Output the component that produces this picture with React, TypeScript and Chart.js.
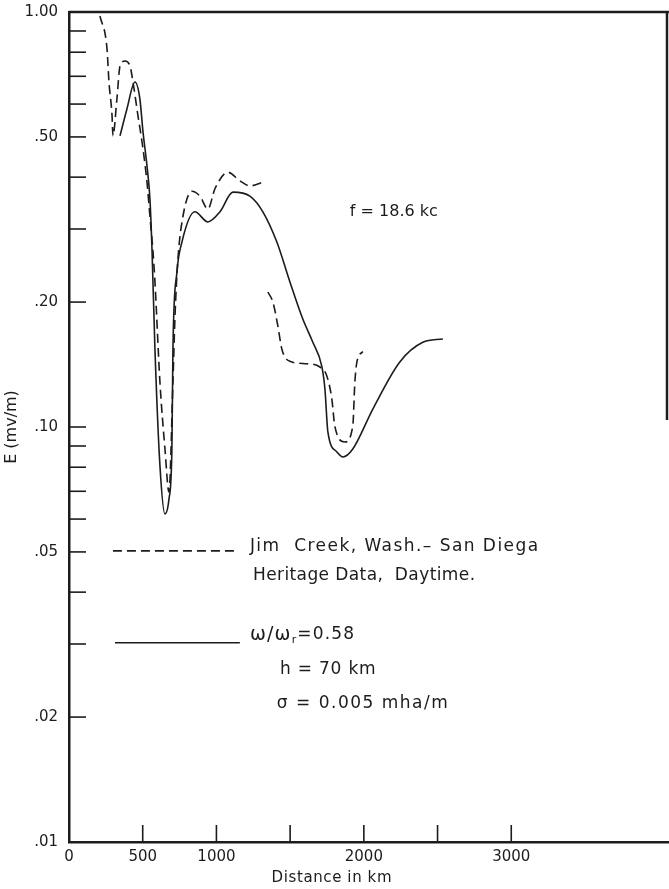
import React, { useEffect, useRef } from "react";
import { Chart, registerables } from "chart.js";

Chart.register(...registerables);

// ---- data (distance in km, field strength in mv/m) ----
const measuredKmA = [210, 258, 271, 292, 298, 325, 346, 380, 414, 434, 468, 502, 529, 549, 570, 583, 617, 651, 678, 705, 719, 739, 773, 834, 888, 942, 990, 1078, 1159, 1227, 1315];
const measuredEA = [0.978, 0.814, 0.678, 0.562, 0.503, 0.617, 0.741, 0.762, 0.741, 0.678, 0.562, 0.468, 0.389, 0.322, 0.264, 0.224, 0.128, 0.0885, 0.0697, 0.128, 0.185, 0.254, 0.322, 0.37, 0.36, 0.335, 0.375, 0.411, 0.392, 0.381, 0.389];
const measuredKmB = [1349, 1383, 1417, 1444, 1498, 1614, 1702, 1749, 1783, 1803, 1871, 1925, 1939, 1953, 1993];
const measuredEB = [0.2115, 0.2, 0.175, 0.154, 0.144, 0.142, 0.1395, 0.1327, 0.1168, 0.1005, 0.092, 0.1005, 0.128, 0.1435, 0.152];
const theoryKm = [346, 393, 447, 481, 502, 529, 549, 563, 583, 617, 651, 678, 698, 705, 732, 766, 854, 942, 1024, 1112, 1227, 1315, 1410, 1498, 1586, 1654, 1715, 1736, 1756, 1817, 1858, 1925, 2061, 2244, 2400, 2536];
const theoryE = [0.503, 0.584, 0.678, 0.617, 0.514, 0.426, 0.354, 0.268, 0.154, 0.0806, 0.0617, 0.067, 0.0885, 0.154, 0.236, 0.279, 0.33, 0.312, 0.33, 0.368, 0.36, 0.33, 0.279, 0.224, 0.182, 0.16, 0.14, 0.1235, 0.0973, 0.0871, 0.0847, 0.0885, 0.1105, 0.1435, 0.16, 0.163];

const xTickValues = [0, 500, 1000, 1500, 2000, 2500, 3000];
const xTickLabels = ["0", "500", "1000", "", "2000", "", "3000"];
const yTickValues = [1, 0.9, 0.8, 0.7, 0.6, 0.5, 0.4, 0.3, 0.2, 0.1, 0.09, 0.08, 0.07, 0.06, 0.05, 0.04, 0.03, 0.02, 0.01];
const yTickLabels = ["1.00", "", "", "", "", ".50", "", "", ".20", ".10", "", "", "", "", ".05", "", "", ".02", ".01"];

const xMin = 0;
const xMax = 4070;
const yMin = 0.01;
const yMax = 1;

const xTitle = "Distance in km";
const yTitle = "E (mv/m)";
const freqNote = "f = 18.6 kc";
const measuredLegend = ["Jim  Creek, Wash.\u2013 San Diega", "Heritage Data,  Daytime."];
const theoryLegend = ["h = 70 km", "\u03c3 = 0.005 mha/m"];

const INK = "#1c1c1c";
const FONT = "'DejaVu Sans', 'Liberation Sans', sans-serif";

const toPts = (xs: number[], ys: number[]) => xs.map((x, i) => ({ x, y: ys[i] }));

const decorPlugin = {
  id: "decor",
  afterDraw(chart: any) {
    const { ctx, chartArea, scales } = chart;
    const { left, right, top, bottom } = chartArea;
    const xs = scales.x;
    const ys = scales.y;
    const line = (x1: number, y1: number, x2: number, y2: number) => {
      ctx.beginPath();
      ctx.moveTo(x1, y1);
      ctx.lineTo(x2, y2);
      ctx.stroke();
    };
    const text = (s: string, x: number, y: number, font: string, spacing: number) => {
      ctx.font = font;
      (ctx as any).letterSpacing = `${spacing}px`;
      ctx.fillText(s, x, y);
      const w = ctx.measureText(s).width;
      (ctx as any).letterSpacing = "0px";
      return w;
    };
    ctx.save();
    ctx.strokeStyle = INK;
    ctx.fillStyle = INK;
    ctx.lineCap = "butt";

    // inward ticks
    ctx.lineWidth = 1.6;
    yTickValues.forEach((v) => {
      if (v >= yMax || v <= yMin) return;
      const py = ys.getPixelForValue(v);
      line(left, py, left + 17, py);
    });
    xTickValues.forEach((v) => {
      if (v <= xMin) return;
      const px = xs.getPixelForValue(v);
      line(px, bottom, px, bottom - 17);
    });

    // top frame and partial right frame
    ctx.lineWidth = 2.5;
    line(left, top, right, top);
    line(right - 2, top, right - 2, ys.getPixelForValue(0.104));

    // legend sample lines
    ctx.lineWidth = 1.6;
    ctx.setLineDash([9, 5]);
    line(xs.getPixelForValue(298), ys.getPixelForValue(0.0503), xs.getPixelForValue(1139), ys.getPixelForValue(0.0503));
    ctx.setLineDash([]);
    line(xs.getPixelForValue(312), ys.getPixelForValue(0.0302), xs.getPixelForValue(1159), ys.getPixelForValue(0.0302));

    // texts
    ctx.textAlign = "left";
    ctx.textBaseline = "middle";
    text(freqNote, xs.getPixelForValue(1905), ys.getPixelForValue(0.33), `16px ${FONT}`, 0);
    text(measuredLegend[0], xs.getPixelForValue(1227), ys.getPixelForValue(0.0516), `17px ${FONT}`, 1.45);
    text(measuredLegend[1], xs.getPixelForValue(1248), ys.getPixelForValue(0.0438), `17px ${FONT}`, 0.4);

    // omega / omega_r = 0.58
    const ox = xs.getPixelForValue(1227);
    const oy = ys.getPixelForValue(0.0316);
    let w = text("\u03c9/\u03c9", ox, oy, `19px ${FONT}`, 1.2);
    w += text("r", ox + w, oy + 6, `11px ${FONT}`, 0);
    text("=0.58", ox + w + 1, oy, `17px ${FONT}`, 1.2);

    text(theoryLegend[0], xs.getPixelForValue(1431), ys.getPixelForValue(0.026), `17px ${FONT}`, 0.8);
    text(theoryLegend[1], xs.getPixelForValue(1410), ys.getPixelForValue(0.0216), `17px ${FONT}`, 1.5);

    // x axis title
    ctx.textAlign = "center";
    text(xTitle, xs.getPixelForValue(1783), bottom + 36, `15px ${FONT}`, 0.6);
    ctx.restore();
  },
};

export default function App() {
  const ref = useRef<HTMLCanvasElement | null>(null);

  useEffect(() => {
    if (!ref.current) return;
    const lineStyle = {
      borderColor: INK,
      borderWidth: 1.6,
      pointRadius: 0,
      fill: false,
      cubicInterpolationMode: "monotone" as const,
    };
    const chart = new Chart(ref.current, {
      type: "line",
      data: {
        datasets: [
          { ...lineStyle, label: "Measured A", data: toPts(measuredKmA, measuredEA), borderDash: [9, 5] },
          { ...lineStyle, label: "Measured B", data: toPts(measuredKmB, measuredEB), borderDash: [9, 5] },
          { ...lineStyle, label: "Theory", data: toPts(theoryKm, theoryE) },
        ],
      },
      options: {
        animation: false,
        responsive: false,
        layout: { padding: { top: 12, left: 0, right: 0, bottom: 0 } },
        plugins: { legend: { display: false }, tooltip: { enabled: false }, title: { display: false } },
        scales: {
          x: {
            type: "linear",
            min: xMin,
            max: xMax,
            afterBuildTicks: (scale: any) => {
              scale.ticks = xTickValues.map((v) => ({ value: v }));
            },
            afterFit: (scale: any) => {
              scale.height = 47;
              scale.paddingLeft = 0;
              scale.paddingRight = 0;
            },
            grid: { display: true, drawOnChartArea: false, drawTicks: false },
            border: { display: true, color: INK, width: 2.5 },
            ticks: {
              autoSkip: false,
              maxRotation: 0,
              padding: 6,
              color: INK,
              font: { family: FONT, size: 15 },
              callback: (value: any) => {
                const i = xTickValues.indexOf(Number(value));
                return i >= 0 ? xTickLabels[i] : "";
              },
            },
            title: { display: false },
          },
          y: {
            type: "logarithmic",
            min: yMin,
            max: yMax,
            afterBuildTicks: (scale: any) => {
              scale.ticks = yTickValues.map((v) => ({ value: v }));
            },
            afterFit: (scale: any) => {
              scale.width = 69;
              scale.paddingTop = 0;
              scale.paddingBottom = 0;
            },
            grid: { display: true, drawOnChartArea: false, drawTicks: false },
            border: { display: true, color: INK, width: 2.5 },
            ticks: {
              autoSkip: false,
              padding: 11,
              color: INK,
              font: { family: FONT, size: 15 },
              callback: (value: any) => {
                const i = yTickValues.findIndex((v) => Math.abs(v - Number(value)) < 1e-9);
                return i >= 0 ? yTickLabels[i] : "";
              },
            },
            title: {
              display: true,
              text: yTitle,
              color: INK,
              font: { family: FONT, size: 16, lineHeight: 1.2 },
              padding: { top: 2, bottom: 0 },
            },
          },
        },
      },
      plugins: [decorPlugin],
    });
    return () => chart.destroy();
  }, []);

  return (
    <div style={{ position: "absolute", left: 0, top: 0, width: 669, height: 889, background: "#fff" }}>
      <canvas ref={ref} width={669} height={889} style={{ display: "block" }} />
    </div>
  );
}
